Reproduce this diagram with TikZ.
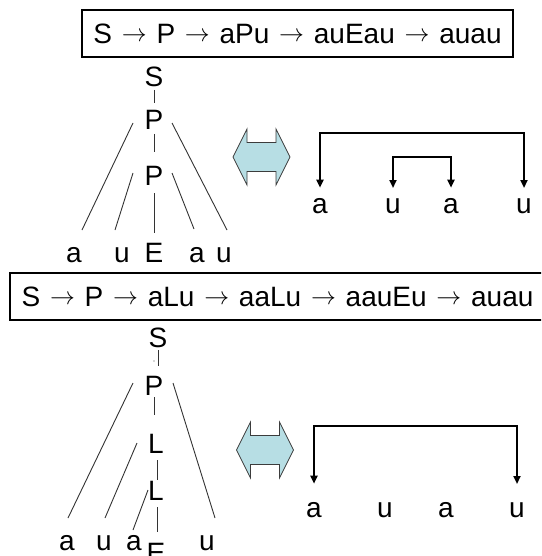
\documentclass[tikz,border=0pt]{standalone}
\usepackage{fontspec}
\setmainfont{Liberation Sans}
\usetikzlibrary{arrows.meta}

\definecolor{arrowfill}{RGB}{183,222,228}
\definecolor{arrowedge}{RGB}{60,60,60}

% derivation step arrow
\newcommand{\dstep}{\hspace{2pt}\raisebox{1.5pt}{$\rightarrow$}\hspace{2pt}}

\tikzset{
  lbl/.style={inner sep=0pt, anchor=base, font=\fontsize{28}{34}\selectfont},
  derivbox/.style={draw, line width=2pt, inner sep=0pt, minimum height=47pt,
    font=\fontsize{28}{34}\selectfont},
  branch/.style={line width=0.9pt, draw=black!80},
  bracket/.style={line width=2pt, line join=miter,
    {Triangle[width=7pt,length=8pt]}-{Triangle[width=7pt,length=8pt]}},
  bigarrow/.style={fill=arrowfill, draw=arrowedge, line width=0.8pt, line join=miter},
  dblarrow/.pic={
    \path[bigarrow] (-28.5,0) -- (-14.5,-28) -- (-14.5,-14.5) -- (14.5,-14.5)
      -- (14.5,-28) -- (28.5,0) -- (14.5,28) -- (14.5,14.5) -- (-14.5,14.5)
      -- (-14.5,28) -- cycle;
  },
}

\begin{document}
\begin{tikzpicture}[x=1pt,y=-1pt]
\useasboundingbox (0,0) rectangle (541,556);
\clip (0,0) rectangle (541,556);

% ---------- derivation 1 ----------
\node[derivbox, minimum width=431pt] (d1) at (297.5,33.5)
  {S \dstep{} P \dstep{} aPu \dstep{} auEau \dstep{} auau};

% parse tree 1
\node[lbl] (t1s)  at (154,87)  {S};
\node[lbl] (t1p1) at (154,130) {P};
\node[lbl] (t1p2) at (154,185) {P};
\node[lbl] (t1l1) at (74,262)  {a};
\node[lbl] (t1l2) at (122,262) {u};
\node[lbl] (t1l3) at (154,262) {E};
\node[lbl] (t1l4) at (197,262) {a};
\node[lbl] (t1l5) at (224,262) {u};

\coordinate (t1sp0) at (154,90);  \coordinate (t1sp1) at (154,103);
\coordinate (t1al0) at (133,123); \coordinate (t1al1) at (82,230);
\coordinate (t1ar0) at (172,123); \coordinate (t1ar1) at (227,230);
\coordinate (t1pp0) at (154,134); \coordinate (t1pp1) at (154,152);
\coordinate (t1bl0) at (133,173); \coordinate (t1bl1) at (115,230);
\coordinate (t1br0) at (172,173); \coordinate (t1br1) at (194,229);
\coordinate (t1pe0) at (154,193); \coordinate (t1pe1) at (154,233);

\draw[branch] (t1sp0) -- (t1sp1);
\draw[branch] (t1al0) -- (t1al1);
\draw[branch] (t1ar0) -- (t1ar1);
\draw[branch] (t1pp0) -- (t1pp1);
\draw[branch] (t1bl0) -- (t1bl1);
\draw[branch] (t1br0) -- (t1br1);
\draw[branch] (t1pe0) -- (t1pe1);

\pic at (261.5,157) {dblarrow};

% arc diagram 1
\node[lbl] (r1a) at (320,213) {a};
\node[lbl] (r1b) at (393,213) {u};
\node[lbl] (r1c) at (451,213) {a};
\node[lbl] (r1d) at (524,213) {u};
\coordinate (bar1o) at (0,133);
\coordinate (bar1i) at (0,157);
\draw[bracket, shorten <=10pt, shorten >=10pt] (r1a.north) |- (r1d.north |- bar1o) -- (r1d.north);
\draw[bracket, shorten <=10pt, shorten >=10pt] (r1b.north) |- (r1c.north |- bar1i) -- (r1c.north);

% ---------- derivation 2 ----------
\node[derivbox, minimum width=535pt] (d2) at (277.5,296.5)
  {S \dstep{} P \dstep{} aLu \dstep{} aaLu \dstep{} aauEu \dstep{} auau};

% parse tree 2
\node[lbl] (t2s)  at (158,347) {S};
\node[lbl] (t2p)  at (154,395) {P};
\node[lbl] (t2q1) at (156,453) {L};
\node[lbl] (t2q2) at (156,500) {L};
\node[lbl] (t2l1) at (67,550)  {a};
\node[lbl] (t2l2) at (104,550) {u};
\node[lbl] (t2l3) at (134,550) {a};
\node[lbl] (t2l4) at (156,562) {E};
\node[lbl] (t2l5) at (207,550) {u};

\coordinate (t2sp0) at (158,350); \coordinate (t2sp1) at (158,366);
\coordinate (t2al0) at (133,383); \coordinate (t2al1) at (68,518);
\coordinate (t2ar0) at (173,383); \coordinate (t2ar1) at (215,518);
\coordinate (t2pq0) at (154,397); \coordinate (t2pq1) at (154,415);
\coordinate (t2bl0) at (137,443); \coordinate (t2bl1) at (105,518);
\coordinate (t2qq0) at (157,460); \coordinate (t2qq1) at (157,480);
\coordinate (t2cl0) at (148,490); \coordinate (t2cl1) at (133,530);
\coordinate (t2qe0) at (157,507); \coordinate (t2qe1) at (157,532);

\draw[branch] (t2sp0) -- (t2sp1);
\fill[black!70] (154,361) circle (0.6pt);
\draw[branch] (t2al0) -- (t2al1);
\draw[branch] (t2ar0) -- (t2ar1);
\draw[branch] (t2pq0) -- (t2pq1);
\draw[branch] (t2bl0) -- (t2bl1);
\draw[branch] (t2qq0) -- (t2qq1);
\draw[branch] (t2cl0) -- (t2cl1);
\draw[branch] (t2qe0) -- (t2qe1);

\pic at (265,450) {dblarrow};

% arc diagram 2
\node[lbl] (r2a) at (314,517) {a};
\node[lbl] (r2b) at (385,517) {u};
\node[lbl] (r2c) at (446,517) {a};
\node[lbl] (r2d) at (517,517) {u};
\coordinate (bar2o) at (0,426);
\draw[bracket, shorten <=18pt, shorten >=18pt] (r2a.north) |- (r2d.north |- bar2o) -- (r2d.north);
\end{tikzpicture}
\end{document}
